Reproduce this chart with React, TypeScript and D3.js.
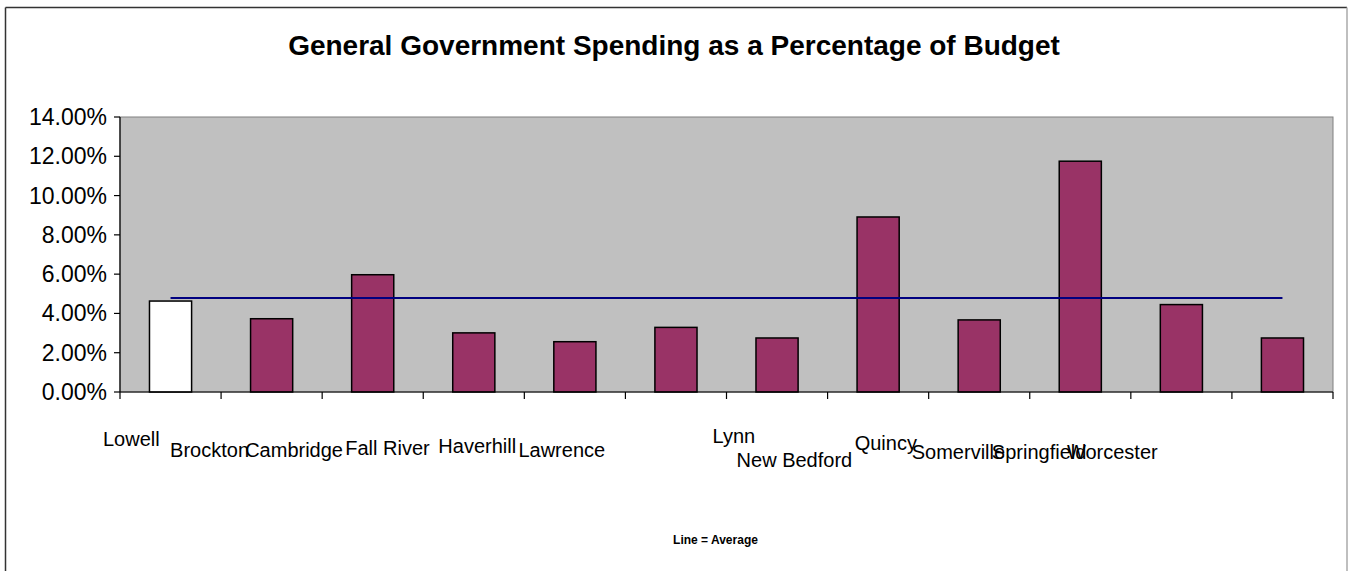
import React from "react";
import * as d3 from "d3";

const categories = ["Lowell", "Brockton", "Cambridge", "Fall River", "Haverhill", "Lawrence", "Lynn", "New Bedford", "Quincy", "Somerville", "Springfield", "Worcester"];
const values = [0.0463, 0.0373, 0.0597, 0.0301, 0.0256, 0.0329, 0.0275, 0.0891, 0.0367, 0.1175, 0.0445, 0.0275];
const averageValue = 0.0479;
const yTicks = [0, 0.02, 0.04, 0.06, 0.08, 0.1, 0.12, 0.14];
const title = "General Government Spending as a Percentage of Budget";
const footnote = "Line = Average";

// layout: label offsets (from band start) and baselines, mimicking the staggered layout
const labelDx = [-17, -51, -77, -78, -86, -107, -14, -91, -74, -118, -139, -165];
const labelY = [446, 457, 457, 455, 453, 457, 443, 467, 450, 459, 459, 459];

const W = 1348, H = 571;
const plot = { left: 120, right: 1333, top: 117, bottom: 392 };

export default function App() {
  const x = d3.scaleBand<string>().domain(categories).range([plot.left, plot.right]).paddingInner(0).paddingOuter(0);
  const y = d3.scaleLinear().domain([0, 0.14]).range([plot.bottom, plot.top]);
  const bw = x.bandwidth();
  const barW = bw / 2.4;
  const fmt = d3.format(".2%");
  const font = "Arial, 'Liberation Sans', sans-serif";
  const boundaries = d3.range(categories.length + 1).map((i) => plot.left + i * bw);
  const first = x(categories[0])! + bw / 2;
  const last = x(categories[categories.length - 1])! + bw / 2;

  return (
    <svg width={W} height={H} style={{ position: "absolute", left: 0, top: 0, background: "#fff" }} fontFamily={font}>
      <rect x={0} y={0} width={W} height={H} fill="#fff" />
      {/* outer frame */}
      <line x1={5.5} y1={7.5} x2={W - 1} y2={7.5} stroke="#333" strokeWidth={1.5} />
      <line x1={5.5} y1={7.5} x2={5.5} y2={H} stroke="#333" strokeWidth={1.5} />
      <line x1={W - 1} y1={7.5} x2={W - 1} y2={H} stroke="#aaa" strokeWidth={1.5} />

      <text x={674} y={55} textAnchor="middle" fontSize={28} fontWeight="bold" fill="#000">{title}</text>

      {/* plot area */}
      <rect x={plot.left} y={plot.top} width={plot.right - plot.left} height={plot.bottom - plot.top} fill="#C0C0C0" stroke="#808080" strokeWidth={1} />

      {/* bars */}
      {categories.map((c, i) => (
        <rect key={c} x={x(c)! + (bw - barW) / 2} y={y(values[i])} width={barW} height={plot.bottom - y(values[i])}
          fill={i === 0 ? "#FFFFFF" : "#993366"} stroke="#000" strokeWidth={1.5} />
      ))}

      {/* average line */}
      <line x1={first} x2={last} y1={y(averageValue)} y2={y(averageValue)} stroke="#000080" strokeWidth={2} />

      {/* y axis */}
      <line x1={plot.left} x2={plot.left} y1={plot.top} y2={plot.bottom} stroke="#000" strokeWidth={1.2} />
      {yTicks.map((t) => (
        <g key={t}>
          <line x1={plot.left - 6} x2={plot.left} y1={y(t)} y2={y(t)} stroke="#000" strokeWidth={1.2} />
          <text x={107} y={y(t) + 8} textAnchor="end" fontSize={23} fill="#000">{fmt(t)}</text>
        </g>
      ))}

      {/* x axis */}
      <line x1={plot.left} x2={plot.right} y1={plot.bottom} y2={plot.bottom} stroke="#000" strokeWidth={1.2} />
      {boundaries.map((b, i) => (
        <line key={i} x1={b} x2={b} y1={plot.bottom} y2={plot.bottom + 7} stroke="#000" strokeWidth={1.2} />
      ))}
      {categories.map((c, i) => (
        <text key={c} x={x(c)! + labelDx[i]} y={labelY[i]} fontSize={20} fill="#000">{c}</text>
      ))}

      <text x={715.5} y={544} textAnchor="middle" fontSize={12} fontWeight="bold" fill="#000">{footnote}</text>
    </svg>
  );
}
